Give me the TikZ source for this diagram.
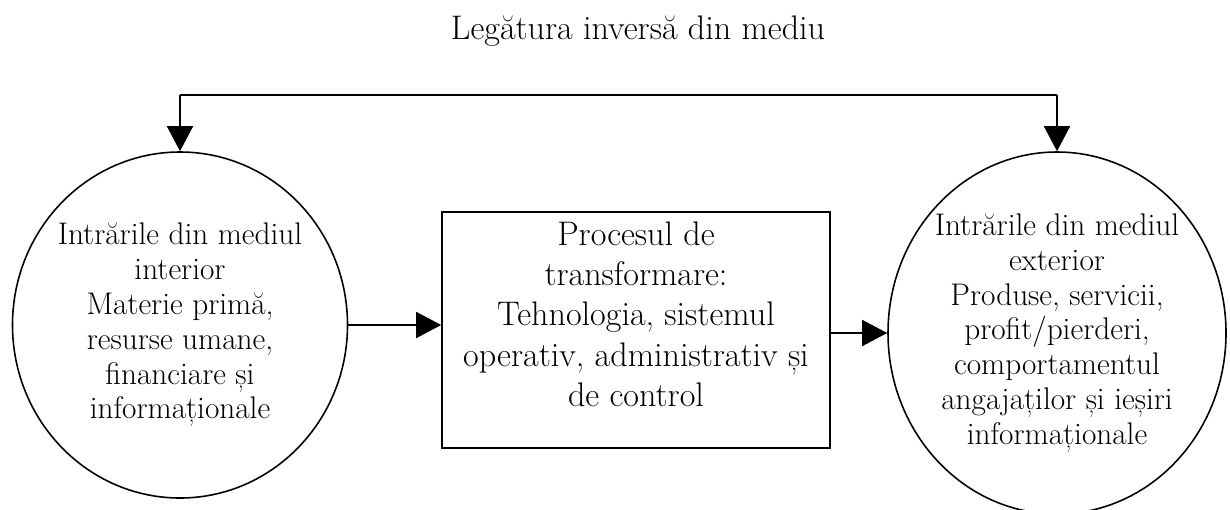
\documentclass[tikz,border=0pt]{standalone}
\usepackage{fontspec}
\usetikzlibrary{arrows.meta, shapes.geometric}

\begin{document}
\begin{tikzpicture}

\tikzset{vertex/.style = {shape=ellipse,draw,line width=0.9pt,inner sep=0pt}}
\tikzset{block/.style = {shape=rectangle,draw,line width=0.9pt,inner sep=0pt}}
\tikzset{txt/.style = {align=center,font=\fontsize{17.8}{19.8}\selectfont}}
\tikzset{edge/.style = {-{Triangle[width=0.52cm,length=0.5cm]},line width=0.9pt}}

\useasboundingbox (0,0) rectangle (24.6,-10.18);

% title
\node[font=\fontsize{19.4}{22}\selectfont] (title) at (12.76,-0.62) {Legătura inversă din mediu};

% vertices
\node[vertex, minimum width=6.7cm, minimum height=6.92cm,
  label={[txt]center:Intrările din mediul\\interior\\Materie primă,\\resurse umane,\\financiare și\\informaționale}]
  (lin) at (3.6,-6.5) {};
\node[block, minimum width=7.76cm, minimum height=4.72cm,
  label={[txt,font=\fontsize{19.4}{23}\selectfont,anchor=north,yshift=-0.08cm]north:Procesul de\\transformare:\\Tehnologia, sistemul\\operativ, administrativ și\\de control}]
  (proc) at (12.72,-6.6) {};
\node[vertex, minimum width=6.76cm, minimum height=7.24cm,
  label={[txt]center:Intrările din mediul\\exterior\\Produse, servicii,\\profit/pierderi,\\comportamentul\\angajaților și ieșiri\\informaționale}]
  (rin) at (21.14,-6.66) {};

% edges
\coordinate (top) at (0,-1.9);
\draw[line width=0.9pt] (top -| lin.north) -- (top -| rin.north);
\draw[edge] (top -| lin.north) -- (lin.north);
\draw[edge] (top -| rin.north) -- (rin.north);
\draw[edge] (lin.east) -- (lin.east -| proc.west);
\draw[edge] (proc.east |- rin.west) -- (rin.west);

\end{tikzpicture}
\end{document}
